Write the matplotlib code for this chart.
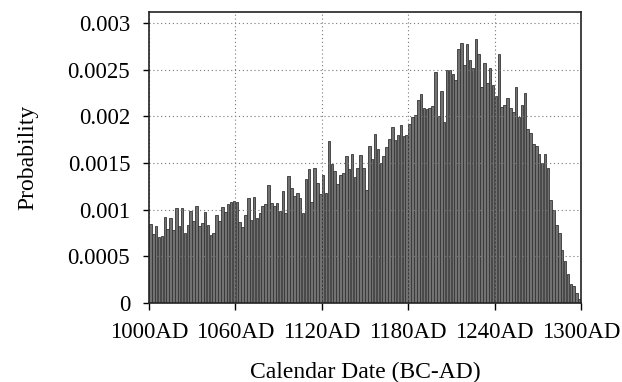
import matplotlib
matplotlib.use("Agg")
import matplotlib.pyplot as plt
import numpy as np

# 2-year bins starting at 1000 AD
bin_start = 1000
bin_width = 2
probability = [
    0.00085, 0.00074, 0.00082, 0.00071, 0.00072, 0.00092, 0.00079, 0.00091, 0.00078, 0.00102,
    0.00082, 0.00102, 0.00075, 0.00084, 0.00098, 0.00088, 0.00104, 0.00082, 0.00086, 0.00097,
    0.00084, 0.00073, 0.00075, 0.00094, 0.00088, 0.00103, 0.00097, 0.00106, 0.00108, 0.00109,
    0.00108, 0.00087, 0.00081, 0.00094, 0.00112, 0.00089, 0.00113, 0.00091, 0.00096, 0.00104,
    0.00106, 0.00126, 0.00107, 0.00104, 0.00107, 0.00099, 0.00120, 0.00096, 0.00136, 0.00123,
    0.00115, 0.00118, 0.00112, 0.00096, 0.00133, 0.00143, 0.00108, 0.00145, 0.00128, 0.00117,
    0.00137, 0.00118, 0.00173, 0.00149, 0.00141, 0.00127, 0.00137, 0.00139, 0.00157, 0.00144,
    0.00160, 0.00135, 0.00145, 0.00159, 0.00145, 0.00121, 0.00168, 0.00154, 0.00181, 0.00165,
    0.00150, 0.00157, 0.00167, 0.00176, 0.00188, 0.00175, 0.00180, 0.00191, 0.00179, 0.00180,
    0.00192, 0.00199, 0.00201, 0.00217, 0.00224, 0.00209, 0.00208, 0.00209, 0.00211, 0.00247,
    0.00200, 0.00227, 0.00194, 0.00249, 0.00250, 0.00245, 0.00239, 0.00272, 0.00278, 0.00255,
    0.00277, 0.00260, 0.00252, 0.00283, 0.00267, 0.00231, 0.00257, 0.00236, 0.00252, 0.00233,
    0.00222, 0.00267, 0.00210, 0.00212, 0.00219, 0.00209, 0.00204, 0.00231, 0.00199, 0.00212,
    0.00225, 0.00186, 0.00182, 0.00170, 0.00168, 0.00160, 0.00150, 0.00160, 0.00145, 0.00110,
    0.00100, 0.00084, 0.00075, 0.00057, 0.00045, 0.00031, 0.00020, 0.00018, 0.00011, 0.00004,
]
x_ticks = [1000, 1060, 1120, 1180, 1240, 1300]
x_tick_labels = ["1000AD", "1060AD", "1120AD", "1180AD", "1240AD", "1300AD"]
y_ticks = [0, 0.0005, 0.001, 0.0015, 0.002, 0.0025, 0.003]
y_tick_labels = ["0", "0.0005", "0.001", "0.0015", "0.002", "0.0025", "0.003"]

plt.rcParams['font.family'] = ['Liberation Serif', 'DejaVu Serif']

fig = plt.figure(figsize=(6.22, 3.82), dpi=100)
ax = fig.add_axes([0.2395, 0.2068, 0.6945, 0.7618])

lefts = bin_start + bin_width * np.arange(len(probability))
ax.bar(lefts + 0.12, probability, width=bin_width - 0.24, align='edge',
       facecolor='#727272', edgecolor='#353535', linewidth=0.6, zorder=2)

ax.set_xlim(1000, 1300)
ax.set_ylim(0, 0.003116)
ax.set_xticks(x_ticks)
ax.set_xticklabels(x_tick_labels)
ax.set_yticks(y_ticks)
ax.set_yticklabels(y_tick_labels)
ax.tick_params(axis='both', direction='out', labelsize=16.5, colors='black')
ax.tick_params(axis='y', length=4.5, width=1.0, pad=9)
ax.tick_params(axis='x', length=5, width=1.0, pad=9)

ax.grid(True, linestyle=(0, (1, 2.5)), color='#777777', linewidth=0.8, zorder=3)
ax.set_axisbelow(False)
for s in ax.spines.values():
    s.set_linewidth(1.2)
    s.set_color('#222222')
    s.set_zorder(4)

ax.set_xlabel("Calendar Date (BC-AD)", fontsize=17, labelpad=13)
ax.set_ylabel("Probability", fontsize=17, labelpad=21)

fig.savefig("out.png", dpi=100)
